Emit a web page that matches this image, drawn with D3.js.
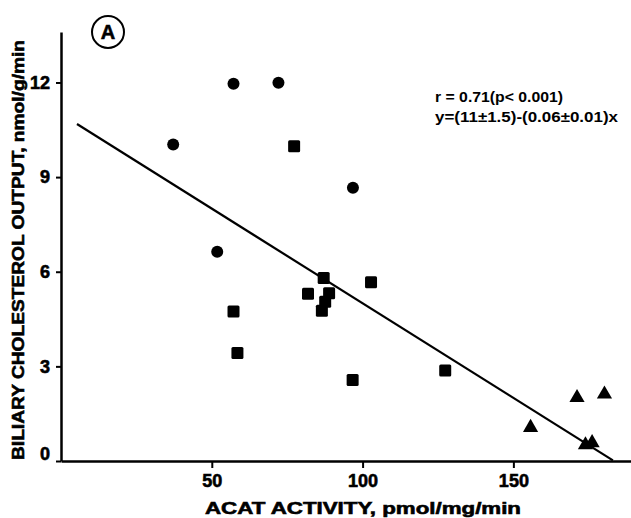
<!DOCTYPE html>
<html>
<head>
<meta charset="utf-8">
<script src="https://cdn.jsdelivr.net/npm/d3@7"></script>
<style>
  body { margin: 0; background: #fff; }
  text { font-family: "Liberation Sans", Arial, sans-serif; font-weight: bold; fill: #000; }
  .heavy { stroke: #000; stroke-width: 0.6px; }
</style>
</head>
<body>
<svg id="chart"></svg>
<script>
// data
const circlePts = [[37.2, 10.03], [57.2, 11.96], [72.1, 11.99], [96.8, 8.66], [51.8, 6.63]];
const squarePts = [
  [77.3, 9.98], [57.2, 4.74], [58.5, 3.42], [81.9, 5.3], [87.1, 5.8],
  [86.5, 4.76], [87.6, 5.05], [88.9, 5.32], [102.8, 5.67], [96.7, 2.57], [127.4, 2.87]
];
const trianglePts = [[155.7, 1.09], [171.1, 2.04], [180.2, 2.15], [173.9, 0.54], [176.1, 0.61]];
const xTicks = [50, 100, 150];
const yTicks = [0, 3, 6, 9, 12];
const fitLine = [[5.3, 11 - 0.06 * 5.3], [183, 11 - 0.06 * 183]];
const statLines = ["r = 0.71(p< 0.001)", "y=(11±1.5)-(0.06±0.01)x"];

const width = 631, height = 518;
const svg = d3.select('#chart').attr('width', width).attr('height', height);

const x = d3.scaleLinear().domain([0, 189]).range([61, 631]);
const y = d3.scaleLinear().domain([0, 13.6]).range([461, 32]);

// axes
const xAxis = svg.append('g')
  .attr('transform', `translate(0, ${y(0)})`)
  .call(d3.axisBottom(x).tickValues(xTicks).tickSize(7).tickPadding(6).tickSizeOuter(0));
xAxis.select('.domain').attr('stroke-width', 2.5);
xAxis.selectAll('.tick line').attr('stroke-width', 2);
xAxis.selectAll('.tick text').attr('class', 'heavy').style('font-size', '18px').style('font-family', '"Liberation Sans", Arial, sans-serif').style('font-weight', 'bold');

const yAxis = svg.append('g')
  .attr('transform', `translate(${x(0)}, 0)`)
  .call(d3.axisLeft(y).tickValues(yTicks).tickSize(5).tickPadding(6).tickSizeOuter(0));
yAxis.select('.domain').attr('stroke-width', 2.5);
yAxis.selectAll('.tick line').attr('stroke-width', 2);
yAxis.selectAll('.tick text').attr('class', 'heavy').style('font-size', '18px').style('font-family', '"Liberation Sans", Arial, sans-serif').style('font-weight', 'bold');
// the zero label sits a little above the axis in the original
yAxis.selectAll('.tick').filter(d => d === 0).select('text').attr('y', -7);

// regression line
svg.append('path')
  .datum(fitLine)
  .attr('d', d3.line().x(d => x(d[0])).y(d => y(d[1])))
  .attr('fill', 'none')
  .attr('stroke', '#000')
  .attr('stroke-width', 2.2);

// points
svg.append('g').selectAll('circle')
  .data(circlePts)
  .enter()
  .append('circle')
  .attr('cx', d => x(d[0]))
  .attr('cy', d => y(d[1]))
  .attr('r', 6)
  .attr('fill', '#000');

svg.append('g').selectAll('rect')
  .data(squarePts)
  .enter()
  .append('rect')
  .attr('x', d => x(d[0]) - 6)
  .attr('y', d => y(d[1]) - 6)
  .attr('width', 12)
  .attr('height', 12)
  .attr('rx', 1.5)
  .attr('fill', '#000');

svg.append('g').selectAll('path')
  .data(trianglePts)
  .enter()
  .append('path')
  .attr('d', d3.symbol(d3.symbolTriangle, 100))
  .attr('transform', d => `translate(${x(d[0])}, ${y(d[1]) + 1})`)
  .attr('fill', '#000');

// axis titles
svg.append('text')
  .attr('class', 'heavy')
  .attr('x', 363)
  .attr('y', 514)
  .attr('text-anchor', 'middle')
  .attr('textLength', 316)
  .attr('lengthAdjust', 'spacingAndGlyphs')
  .style('font-size', '17px')
  .text('ACAT ACTIVITY,  pmol/mg/min');

svg.append('text')
  .attr('class', 'heavy')
  .attr('transform', 'translate(24, 250) rotate(-90)')
  .attr('text-anchor', 'middle')
  .attr('textLength', 420)
  .attr('lengthAdjust', 'spacingAndGlyphs')
  .style('font-size', '17px')
  .text('BILIARY CHOLESTEROL OUTPUT,  nmol/g/min');

// stats annotation
svg.append('g').selectAll('text')
  .data(statLines)
  .enter()
  .append('text')
  .attr('x', 435)
  .attr('y', (d, i) => 102 + i * 20)
  .attr('textLength', (d, i) => i === 0 ? 128 : 183)
  .attr('lengthAdjust', 'spacingAndGlyphs')
  .style('font-size', '14px')
  .text(d => d);

// panel label
svg.append('circle')
  .attr('cx', 108)
  .attr('cy', 32)
  .attr('r', 16)
  .attr('fill', 'none')
  .attr('stroke', '#000')
  .attr('stroke-width', 2);
svg.append('text')
  .attr('class', 'heavy')
  .attr('x', 108)
  .attr('y', 39)
  .attr('text-anchor', 'middle')
  .style('font-size', '20px')
  .text('A');
</script>
</body>
</html>
